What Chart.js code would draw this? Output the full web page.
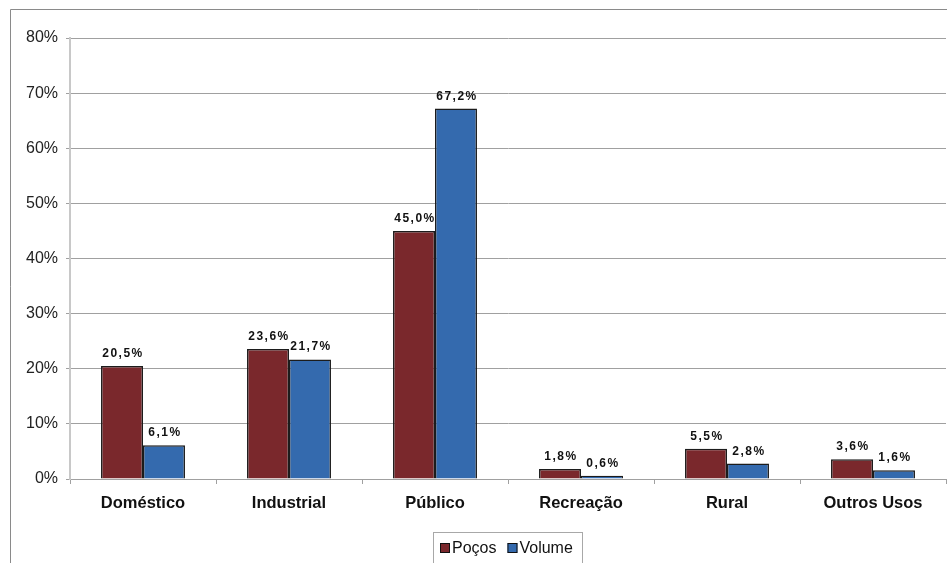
<!DOCTYPE html>
<html lang="pt">
<head>
  <meta charset="UTF-8" />
  <title>Poços e Volume por Uso</title>
  <script src="https://cdn.jsdelivr.net/npm/chart.js"></script>
  <style>
    html, body { margin: 0; padding: 0; background: #fff; }
    #wrap { width: 947px; height: 563px; position: relative; }
  </style>
</head>
<body>
  <div id="wrap"><canvas id="usosChart" width="947" height="563"></canvas></div>

  <script>
    // Percentagens por tipo de uso
    const categorias = ["Doméstico", "Industrial", "Público", "Recreação", "Rural", "Outros Usos"];
    const pocos = [20.5, 23.6, 45.0, 1.8, 5.5, 3.6];
    const volume = [6.1, 21.7, 67.2, 0.6, 2.8, 1.6];
    const ticksY = [0, 10, 20, 30, 40, 50, 60, 70, 80];

    const fonte = "'Liberation Sans', Arial, sans-serif";
    const corPocos = "#7a282c";
    const corVolume = "#346aae";

    // moldura externa, legenda em caixa e rótulos sobre as barras
    const extras = {
      id: "extras",
      afterDraw(chart) {
        const ctx = chart.ctx;
        ctx.save();
        ctx.strokeStyle = "#8a8a8a";
        ctx.lineWidth = 1;
        ctx.beginPath();
        ctx.moveTo(10.5, 563);
        ctx.lineTo(10.5, 9.5);
        ctx.lineTo(947, 9.5);
        ctx.stroke();

        // legenda
        ctx.strokeStyle = "#a8a8a8";
        ctx.strokeRect(433.5, 532.5, 149, 40);
        ctx.font = "16px " + fonte;
        ctx.textAlign = "left";
        ctx.textBaseline = "middle";
        let x = 440;
        chart.data.datasets.forEach(ds => {
          ctx.fillStyle = ds.backgroundColor;
          ctx.fillRect(x, 543, 10, 10);
          ctx.strokeStyle = "#111";
          ctx.strokeRect(x + 0.5, 543.5, 9, 9);
          ctx.fillStyle = "#111";
          ctx.fillText(ds.label, x + 12, 548.5);
          x += 12 + ctx.measureText(ds.label).width + 11;
        });

        // valores
        ctx.fillStyle = "#111";
        ctx.font = "bold 12px " + fonte;
        ctx.letterSpacing = "1.5px";
        ctx.textAlign = "center";
        ctx.textBaseline = "alphabetic";
        chart.data.datasets.forEach((ds, i) => {
          chart.getDatasetMeta(i).data.forEach((bar, j) => {
            const txt = ds.data[j].toFixed(1).replace(".", ",") + "%";
            ctx.fillText(txt, bar.x + 1, bar.y - 9);
          });
        });
        ctx.restore();
      }
    };

    new Chart(document.getElementById("usosChart").getContext("2d"), {
      type: "bar",
      data: {
        labels: categorias,
        datasets: [
          {
            label: "Poços",
            data: pocos,
            backgroundColor: corPocos,
            borderColor: "#1c1c1c",
            borderWidth: 1.5
          },
          {
            label: "Volume",
            data: volume,
            backgroundColor: corVolume,
            borderColor: "#1c1c1c",
            borderWidth: 1.5
          }
        ]
      },
      options: {
        responsive: false,
        animation: false,
        layout: { padding: { top: 38, left: 10, right: 1, bottom: 34 } },
        datasets: { bar: { barPercentage: 1, categoryPercentage: 0.575 } },
        plugins: {
          tooltip: { enabled: false },
          legend: { display: false }
        },
        scales: {
          x: {
            afterFit: s => { s.height = 50; },
            grid: {
              offset: true,
              drawOnChartArea: false,
              tickLength: 5,
              color: "#a0a0a0"
            },
            border: { color: "#a0a0a0" },
            ticks: {
              color: "#111",
              padding: 10,
              font: { family: fonte, size: 16.5, weight: "bold" }
            }
          },
          y: {
            min: 0,
            max: 80,
            afterFit: s => { s.width = 60; },
            afterBuildTicks: s => { s.ticks = ticksY.map(v => ({ value: v })); },
            grid: { color: "#a0a0a0", tickLength: 4 },
            border: { color: "#c8c8c8", width: 2 },
            ticks: {
              color: "#222",
              padding: 8,
              font: { family: fonte, size: 16 },
              callback: v => v + "%"
            }
          }
        }
      },
      plugins: [extras]
    });
  </script>
</body>
</html>
